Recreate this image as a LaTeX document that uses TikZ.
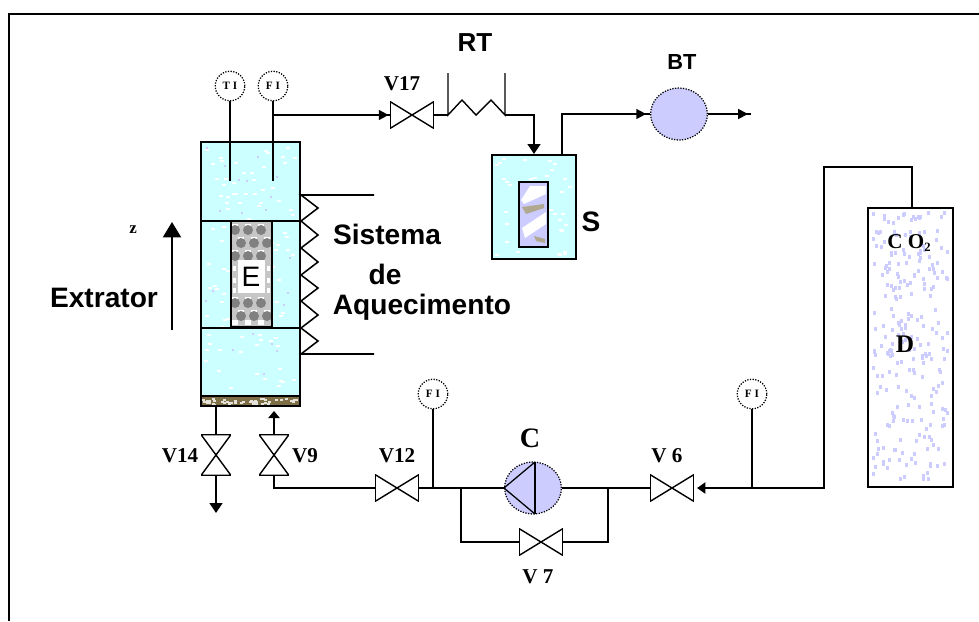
\documentclass[tikz,border=0pt]{standalone}
\usepackage{fontspec}
\setmainfont{Liberation Sans}
\newfontfamily\valvefont{Liberation Serif}
\usepackage{xcolor}
\usepackage{tikz}
\usetikzlibrary{arrows.meta,positioning,calc,shapes.geometric,decorations.markings}
\definecolor{myaqua}{RGB}{204,255,255}
\definecolor{mylilac}{RGB}{204,204,255}
\definecolor{mygrain}{RGB}{125,110,70}
\tikzset{
  pipe/.style={draw=black, line width=1.3pt},
  flow/.style={pipe, -{Triangle[length=7pt,width=9pt]}},
  midhead/.style={pipe, postaction={decorate},
    decoration={markings, mark=at position #1 with {\arrow{Triangle[length=7pt,width=7pt]}}}},
  vessel/.style={draw=black, line width=1.4pt},
  gauge/.style={circle, draw=black, densely dotted, line width=0.9pt, fill=white, minimum size=21pt, inner sep=0pt, font=\valvefont\bfseries\fontsize{8}{8}\selectfont},
  vlabel/.style={font=\valvefont\bfseries\fontsize{15}{15}\selectfont, inner sep=0pt},
  title/.style={font=\bfseries\fontsize{20}{20}\selectfont, inner sep=0pt},
  machine/.style={ellipse, draw=black, line width=0.9pt, densely dotted, fill=mylilac, minimum width=40.4pt, minimum height=36.9pt, inner sep=0pt},
  hvalve/.style={rectangle, inner sep=0pt, minimum width=31.2pt, minimum height=19.1pt,
    path picture={\draw[line width=1pt] (path picture bounding box.north west) -- (path picture bounding box.south east)
      -- (path picture bounding box.north east) -- (path picture bounding box.south west) -- cycle;}},
  vvalve/.style={rectangle, inner sep=0pt, minimum width=21.3pt, minimum height=29pt,
    path picture={\draw[line width=1pt] (path picture bounding box.north west) -- (path picture bounding box.north east)
      -- (path picture bounding box.south west) -- (path picture bounding box.south east) -- cycle;}},
}
\begin{document}
\begin{tikzpicture}[x=0.025cm, y=-0.025cm]
  \useasboundingbox (0,0) rectangle (979,621);
  \fill[white] (0,0) rectangle (979,621);
  \pgfmathsetseed{11}
  % Frame
  \draw[black, line width=2pt] (9,621) -- (9,14) -- (979,14);

  % Extractor
  \fill[myaqua] (201,142) rectangle (300,397);
  \foreach \i in {1,...,110}{
    \pgfmathsetmacro{\px}{204+rnd*90}
    \pgfmathsetmacro{\py}{145+rnd*246}
    \fill[white] (\px,\py) rectangle +(4,2);
  }
  \foreach \i in {1,...,25}{
    \pgfmathsetmacro{\px}{204+rnd*90}
    \pgfmathsetmacro{\py}{145+rnd*246}
    \fill[mylilac] (\px,\py) rectangle +(2,2);
  }
  \fill[mygrain] (201,397) rectangle (300,406);
  \foreach \i in {1,...,45}{
    \pgfmathsetmacro{\px}{202+rnd*94}
    \pgfmathsetmacro{\py}{398+rnd*6}
    \fill[white!80!mygrain] (\px,\py) rectangle +(3,2);
  }
  \draw[vessel] (201,142) rectangle (300,406);
  \draw[vessel] (201,221) -- (300,221);
  \draw[vessel] (201,328) -- (300,328);
  \draw[vessel] (201,396) -- (300,396);

  % Packing
  \fill[gray!45] (231,221) rectangle (272,328);
  \foreach \y/\o in {224/0, 237/6, 250/0, 297/0, 310/6, 320/0}{
    \foreach \x in {232,245,258}{
      \fill[white] (\x+\o,\y) rectangle +(6,5);
    }
  }
  \foreach \y/\o in {230/0, 243/6, 256/0, 303/0, 316/6}{
    \foreach \x in {238,251,264}{
      \fill[gray] (\x+\o-3,\y) circle (5);
    }
  }
  \fill[white] (238,260) rectangle (265,293);
  \foreach \y in {266,278,288}{
    \fill[white] (233,\y) rectangle +(3,5);
    \fill[white] (267,\y) rectangle +(3,5);
  }
  \draw[vessel] (231,221) rectangle (272,328);
  \draw[black, line width=2pt] (231,327) -- (272,327);
  \node[font=\fontsize{20}{20}\selectfont, inner sep=0pt] (E) at (251,277) {E};

  % Heater coil
  \draw[pipe, line width=1.1pt] (374,195) -- (301,195) -- (318,208) -- (301,221) -- (318,235) -- (301,248) -- (318,262) -- (301,275)
    -- (318,288) -- (301,301) -- (318,315) -- (301,328) -- (318,341) -- (301,354) -- (374,354);
  \node[title] (sistema) at (387,234) {Sistema};
  \node[title] (de) at (385,274) {de};
  \node[title] (aquec) at (422,307) {Aquecimento};

  % Axis z
  \node[font=\valvefont\bfseries\fontsize{12}{12}\selectfont, inner sep=0pt] (zlabel) at (133,230) {z};
  \coordinate (zfoot) at (172,330);
  \coordinate (ztip) at (172,222);
  \draw[pipe, line width=1.1pt, -{Triangle[length=11pt,width=13pt]}] (zfoot) -- (ztip);
  \node[title] (extrator) at (104,298) {Extrator};

  % Gauges on top
  \node[gauge] (gaugeT) at (230,86) {T I};
  \node[gauge] (gaugeF) at (273,86) {F I};
  \coordinate (probeT) at (230,181);
  \coordinate (probeF) at (273,181);
  \draw[pipe] (gaugeT) -- (probeT);
  \draw[pipe] (gaugeF) -- (probeF);

  % Line to separator
  \node[hvalve] (valveA) at (412,115) {};
  \node[vlabel] (labelA) at (402,84) {V17};
  \coordinate (rtA) at (448,115);
  \coordinate (rtB) at (505,115);
  \draw[midhead=0.99] (273,115) -- (valveA.west);
  \draw[pipe] (valveA.east) -- (rtA);
  \draw[pipe, line width=1pt] (448,73) -- (rtA) -- (462,100) -- (476,115) -- (491,100) -- (rtB) -- (505,73);
  \node[title, font=\bfseries\fontsize{18.5}{18.5}\selectfont] (rtlabel) at (475,43) {RT};

  % Separator
  \node[rectangle, draw=black, line width=1.4pt, fill=myaqua, minimum width=59.6pt, minimum height=74.5pt, inner sep=0pt] (sep) at (534,207) {};
  \foreach \i in {1,...,45}{
    \pgfmathsetmacro{\px}{495+rnd*74}
    \pgfmathsetmacro{\py}{158+rnd*96}
    \fill[white] (\px,\py) rectangle +(4,2);
  }
  \fill[mylilac] (519,182) rectangle (548,247);
  \fill[white] (530,186) -- (546,186) -- (546,194) -- (524,204) -- (521,200) -- cycle;
  \fill[white] (546,212) -- (546,224) -- (525,238) -- (522,228) -- cycle;
  \fill[mygrain!60] (522,207) -- (544,204) -- (544,208) -- (526,214) -- cycle;
  \fill[mygrain!60] (534,236) -- (545,239) -- (545,243) -- (536,241) -- cycle;
  \draw[vessel] (519,182) rectangle (548,247);
  \node[title] (slabel) at (591,222) {S};
  \draw[flow] (rtB) -- (534,115) -- (534,154);

  % Booster
  \node[machine] (booster) at (679,114) {};
  \node[title, font=\bfseries\fontsize{15.5}{15.5}\selectfont] (btlabel) at (682,62) {BT};
  \coordinate (outlet) at (751,114);
  \draw[midhead=0.97] (562,154) -- (562,114) -- (booster.west);
  \draw[midhead=0.93] (booster.east) -- (outlet);

  % Cylinder
  \node[rectangle, minimum width=60.3pt, minimum height=197.8pt, inner sep=0pt] (cyl) at (910.5,347.5) {};
  \foreach \i in {1,...,240}{
    \pgfmathsetmacro{\px}{871+rnd*76}
    \pgfmathsetmacro{\py}{211+rnd*268}
    \fill[mylilac] (\px,\py) rectangle +(3,4);
  }
  \draw[vessel] (cyl.north west) rectangle (cyl.south east);
  \node[vlabel, font=\valvefont\bfseries\fontsize{15}{15}\selectfont] (colabel) at (909,243) {C O\raisebox{-2pt}{\fontsize{9}{9}\selectfont 2}};
  \node[font=\valvefont\bfseries\fontsize{18}{18}\selectfont, inner sep=0pt] (dlabel) at (905,344) {D};

  % Supply line
  \node[hvalve] (valveB) at (672,488) {};
  \node[vlabel] (labelB) at (667,456) {V 6};
  \node[gauge] (gaugeB) at (752,394) {F I};
  \coordinate (teeB) at (752,488);
  \draw[pipe] (912,208) -- (912,167) -- (824,167) -- (824,488) -- (teeB);
  \draw[pipe] (gaugeB) -- (teeB);
  \draw[flow, -{Triangle[length=6pt,width=8pt]}, shorten >=2pt] (teeB) -- (valveB.east);

  % Compressor
  \node[machine] (comp) at (533,488) {};
  \node[font=\valvefont\bfseries\fontsize{20}{20}\selectfont, inner sep=0pt] (clabel) at (530,438) {C};
  \coordinate (compN) at (535,462);
  \coordinate (compS) at (535,514);
  \draw[pipe] (compN) -- (compS);
  \draw[pipe, line width=0.9pt] (compN) -- (comp.west) -- (compS);
  \coordinate (teeR) at (608,488);
  \coordinate (teeL) at (461,488);
  \draw[pipe] (comp.east) -- (teeR) -- (valveB.west);
  \node[hvalve] (valveC) at (541,542) {};
  \node[vlabel] (labelC) at (538,577) {V 7};
  \draw[pipe] (teeR) -- (608,542) -- (valveC.east);
  \draw[pipe] (valveC.west) -- (461,542) -- (teeL);

  % Valve V12
  \node[hvalve] (valveD) at (397,488) {};
  \node[vlabel] (labelD) at (397,456) {V12};
  \node[gauge] (gaugeD) at (433,394) {F I};
  \coordinate (teeD) at (433,488);
  \draw[pipe] (comp.west) -- (teeL) -- (teeD) -- (valveD.east);
  \draw[pipe] (gaugeD) -- (teeD);

  % Valves at the bottom
  \node[vvalve] (valveE) at (274,455) {};
  \node[vlabel] (labelE) at (305,456) {V9};
  \node[vvalve] (valveF) at (216,455) {};
  \node[vlabel] (labelF) at (180,456) {V14};
  \coordinate (tipE) at (274,411);
  \coordinate (drainF) at (216,406);
  \coordinate (tipF) at (216,513);
  \draw[pipe] (valveD.west) -- (274,488) -- (valveE.south);
  \draw[flow, -{Triangle[length=5pt,width=8pt]}] (valveE.north) -- (tipE);
  \draw[pipe] (drainF) -- (valveF.north);
  \draw[flow] (valveF.south) -- (tipF);
\end{tikzpicture}
\end{document}
